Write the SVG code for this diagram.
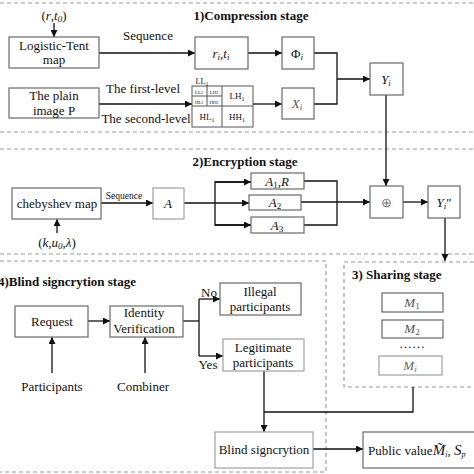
<svg xmlns="http://www.w3.org/2000/svg" width="474" height="474" viewBox="0 0 474 474">
<defs>
<marker id="ah" viewBox="0 0 10 10" refX="10" refY="5" markerWidth="7" markerHeight="7" markerUnits="userSpaceOnUse" orient="auto"><path d="M0,0 L10,5 L0,10 z" fill="#111"/></marker>
</defs>
<style>
text{font-family:"Liberation Serif","Times New Roman",serif;fill:#111;}
.t{font-size:13px;text-anchor:middle;}
.b{font-size:13px;font-weight:bold;}
.m{font-size:13px;font-style:italic;text-anchor:middle;}
.box{fill:#fff;stroke:#6a6a6a;stroke-width:1.2;}
.lbox{fill:#fff;stroke:#a0a0a0;stroke-width:1.2;}
.dash{fill:none;stroke:#9a9a9a;stroke-width:1.1;stroke-dasharray:4,3;}
.ln{fill:none;stroke:#111;stroke-width:1.3;}
.ar{fill:none;stroke:#111;stroke-width:1.3;marker-end:url(#ah);}
.g{fill:none;stroke:#555;stroke-width:1;}
</style>
<rect width="474" height="474" fill="#fff"/>

<g id="frames">
<line class="dash" x1="0" y1="3" x2="474" y2="3"/>
<line class="dash" x1="0" y1="132" x2="474" y2="132"/>
<line class="dash" x1="0" y1="149" x2="474" y2="149"/>
<line class="dash" x1="0" y1="254" x2="474" y2="254"/>
<polyline class="dash" points="0,261 326,261 326,472 0,472"/>
<polyline class="dash" points="474,262 344,262 344,387 474,387"/>
<text class="b" x="251" y="20" text-anchor="middle">1)Compression stage</text>
<text class="b" x="245" y="166" text-anchor="middle">2)Encryption stage</text>
<text class="b" x="-2" y="286">4)Blind signcrytion stage</text>
<text class="b" x="352" y="279">3) Sharing stage</text>
</g>

<g id="connectors">
<line class="ar" x1="54" y1="23" x2="54" y2="37"/>
<line class="ar" x1="99" y1="53" x2="195" y2="53"/>
<line class="ar" x1="248" y1="53" x2="282" y2="53"/>
<line class="ar" x1="99" y1="104" x2="192" y2="104"/>
<line class="ar" x1="253" y1="104" x2="282" y2="104"/>
<polyline class="ln" points="314,53 337,53 337,104 314,104"/>
<line class="ar" x1="337" y1="79" x2="370" y2="79"/>
<line class="ar" x1="386" y1="95" x2="386" y2="186"/>
<line class="ar" x1="101" y1="203" x2="153" y2="203"/>
<line class="ar" x1="57" y1="233" x2="57" y2="219"/>
<line class="ar" x1="184" y1="203" x2="249" y2="203"/>
<polyline class="ln" points="251,182 215,182 215,225 251,225"/>
<line class="ar" x1="215" y1="182" x2="251" y2="182"/>
<line class="ar" x1="215" y1="225" x2="251" y2="225"/>
<polyline class="ln" points="304,181 337,181 337,225 304,225"/>
<line class="ar" x1="301" y1="202" x2="370" y2="202"/>
<line class="ar" x1="403" y1="202" x2="428" y2="202"/>
<line class="ar" x1="445" y1="218" x2="445" y2="261"/>
<line class="ar" x1="88" y1="321" x2="110" y2="321"/>
<line class="ar" x1="52" y1="373" x2="52" y2="337"/>
<line class="ar" x1="145" y1="373" x2="145" y2="337"/>
<polyline class="ln" points="183,321 199,321"/>
<polyline class="ln" points="199,299 199,356"/>
<line class="ar" x1="199" y1="299" x2="220" y2="299"/>
<line class="ar" x1="199" y1="356" x2="223" y2="356"/>
<polyline class="ln" points="413,387 413,412 264,412"/>
<line class="ar" x1="264" y1="371" x2="264" y2="432"/>
<line class="ar" x1="313" y1="449" x2="363" y2="449"/>
<text class="t" x="148" y="40">Sequence</text>
<text class="t" x="143" y="93">The first-level</text>
<text class="t" x="146" y="123">The second-level</text>
<text x="124" y="199" style="font-size:9.5px;text-anchor:middle">Sequence</text>
<text class="t" x="209" y="297">No</text>
<text class="t" x="208" y="369">Yes</text>
</g>

<g id="n-rt0"><text class="t" x="54" y="20">(<tspan font-style="italic">r</tspan>,<tspan font-style="italic">t</tspan><tspan font-style="italic" font-size="9" dy="2">0</tspan><tspan dy="-2">)</tspan></text></g>

<g id="n-logistic"><rect class="box" x="9" y="37" width="90" height="31"/>
<text class="t" x="54" y="50">Logistic-Tent</text><text class="t" x="54" y="64">map</text></g>

<g id="n-plain"><rect class="box" x="9" y="88" width="90" height="30"/>
<text class="t" x="54" y="100">The plain</text><text class="t" x="54" y="115">image P</text></g>

<g id="n-rt"><rect class="box" x="195" y="37" width="53" height="32"/>
<text class="m" x="221" y="58">r<tspan font-size="9" dy="2">i</tspan><tspan dy="-2" font-style="normal">,</tspan>t<tspan font-size="9" dy="2">i</tspan></text></g>

<g id="n-phi"><rect class="box" x="282" y="37" width="32" height="32"/>
<text class="t" x="297" y="58">Φ<tspan font-size="9" font-style="italic" dy="2">i</tspan></text></g>

<g id="n-x"><rect class="box" x="282" y="88" width="32" height="31"/>
<text class="m" x="297" y="108" style="fill:#555">X<tspan font-size="9" dy="2">i</tspan></text></g>

<g id="n-y"><rect class="box" x="370" y="63" width="33" height="32"/>
<text class="m" x="386" y="84">Y<tspan font-size="9" dy="2">i</tspan></text></g>

<g id="n-wavelet">
<rect class="g" x="192" y="86" width="61" height="41" fill="#fff"/>
<line class="g" x1="222" y1="86" x2="222" y2="127"/>
<line class="g" x1="192" y1="106" x2="253" y2="106"/>
<line class="g" x1="207" y1="86" x2="207" y2="106"/>
<line class="g" x1="192" y1="96" x2="222" y2="96"/>
<text x="202" y="84" style="font-size:8px;text-anchor:middle">LL<tspan font-size="6" dy="1.5">1</tspan></text>
<text x="199" y="93.5" style="font-size:5px;text-anchor:middle">LL<tspan font-size="4">2</tspan></text>
<text x="214" y="93.5" style="font-size:5px;text-anchor:middle">LH<tspan font-size="4">2</tspan></text>
<text x="199" y="103.5" style="font-size:5px;text-anchor:middle">HL<tspan font-size="4">2</tspan></text>
<text x="214" y="103.5" style="font-size:5px;text-anchor:middle">HH<tspan font-size="4">2</tspan></text>
<text x="237" y="99" style="font-size:9px;text-anchor:middle">LH<tspan font-size="6" dy="1.5">1</tspan></text>
<text x="207" y="120" style="font-size:9px;text-anchor:middle">HL<tspan font-size="6" dy="1.5">1</tspan></text>
<text x="237" y="120" style="font-size:9px;text-anchor:middle">HH<tspan font-size="6" dy="1.5">1</tspan></text>
</g>

<g id="n-cheb"><rect class="box" x="12" y="188" width="89" height="31"/>
<text class="t" x="57" y="208">chebyshev map</text></g>

<g id="n-kul"><text class="t" x="57" y="247">(<tspan font-style="italic">k</tspan>,<tspan font-style="italic">u</tspan><tspan font-style="italic" font-size="9" dy="2">0</tspan><tspan dy="-2">,</tspan><tspan font-style="italic">λ</tspan>)</text></g>

<g id="n-a"><rect class="lbox" x="153" y="188" width="31" height="31"/>
<text class="m" x="168" y="208">A</text></g>

<g id="n-a1"><rect class="box" x="251" y="173" width="53" height="16"/>
<text class="m" x="277" y="186">A<tspan font-size="9" font-style="normal" dy="2">1</tspan><tspan dy="-2" font-style="normal">,</tspan>R</text></g>
<g id="n-a2"><rect class="box" x="249" y="195" width="52" height="15"/>
<text class="m" x="275" y="207">A<tspan font-size="9" font-style="normal" dy="2">2</tspan></text></g>
<g id="n-a3"><rect class="box" x="251" y="217" width="53" height="16"/>
<text class="m" x="277" y="230">A<tspan font-size="9" font-style="normal" dy="2">3</tspan></text></g>

<g id="n-xor"><rect class="box" x="370" y="186" width="33" height="32"/>
<text class="t" x="386" y="207" style="fill:#777">⊕</text></g>

<g id="n-y2"><rect class="box" x="428" y="186" width="32" height="32"/>
<text class="m" x="444" y="207">Y<tspan font-size="9" dy="2">i</tspan><tspan dy="-2" font-style="normal">″</tspan></text></g>

<g id="n-m1"><rect class="box" x="382" y="293" width="61" height="19"/>
<text class="m" x="412" y="307" style="fill:#555">M<tspan font-size="9" font-style="normal" dy="2">1</tspan></text></g>
<g id="n-m2"><rect class="box" x="382" y="320" width="61" height="18"/>
<text class="m" x="412" y="333" style="fill:#555">M<tspan font-size="9" font-style="normal" dy="2">2</tspan></text></g>
<g id="n-dots"><text class="t" x="412" y="348">……</text></g>
<g id="n-mi"><rect class="lbox" x="379" y="356" width="63" height="19"/>
<text class="m" x="410" y="370" style="fill:#666">M<tspan font-size="9" dy="2">i</tspan></text></g>

<g id="n-request"><rect class="box" x="15" y="306" width="73" height="31"/>
<text class="t" x="52" y="326">Request</text></g>
<g id="n-identity"><rect class="box" x="110" y="306" width="73" height="31"/>
<text class="t" x="144" y="317">Identity</text><text class="t" x="144" y="333">Verification</text></g>
<g id="n-participants"><text class="t" x="52" y="391">Participants</text></g>
<g id="n-combiner"><text class="t" x="143" y="391">Combiner</text></g>
<g id="n-illegal"><rect class="box" x="220" y="283" width="81" height="32"/>
<text class="t" x="260" y="296">Illegal</text><text class="t" x="260" y="311">participants</text></g>
<g id="n-legit"><rect class="lbox" x="223" y="339" width="81" height="32"/>
<text class="t" x="263" y="352">Legitimate</text><text class="t" x="263" y="367">participants</text></g>
<g id="n-blind"><rect class="lbox" x="215" y="432" width="98" height="36"/>
<text class="t" x="264" y="454">Blind signcrytion</text></g>
<g id="n-public"><rect class="box" x="363" y="432" width="115" height="36"/>
<text x="368" y="455" style="font-size:13px">Public value<tspan font-style="italic" font-size="15">M̃</tspan><tspan font-size="8" font-style="italic" dy="2">i</tspan><tspan dy="-2">, </tspan><tspan font-style="italic" font-size="15">S</tspan><tspan font-size="8" font-style="italic" dy="2">p</tspan></text></g>
</svg>
